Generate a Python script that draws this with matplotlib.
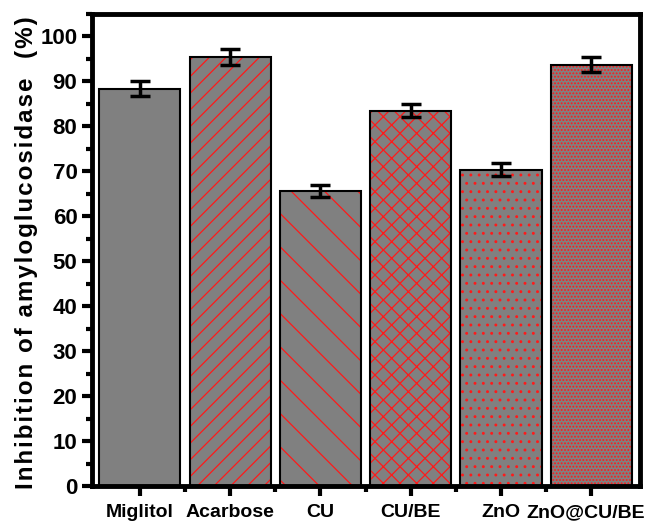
import matplotlib
matplotlib.use("Agg")
import matplotlib.pyplot as plt
import matplotlib.transforms as mtransforms
from matplotlib.ticker import MultipleLocator

categories = ["Miglitol", "Acarbose", "CU", "CU/BE", "ZnO", "ZnO@CU/BE"]
values = [88.4, 95.5, 65.6, 83.5, 70.4, 93.7]
errors = [1.7, 1.8, 1.3, 1.4, 1.4, 1.7]
hatches = ["", "//", "\\", "xx", "..", "....."]
yticks = [0, 10, 20, 30, 40, 50, 60, 70, 80, 90, 100]
ylabel_text = "Inhibition of amyloglucosidase  (%)"

plt.rcParams['hatch.linewidth'] = 0.9
fig = plt.figure(figsize=(6.45, 5.22), dpi=100)
ax = fig.add_axes([92/645, 1-486/522, 548/645, 472/522])

x = list(range(len(categories)))
for i, (v, h) in enumerate(zip(values, hatches)):
    ax.bar(i, v, width=0.9, color="#808080", edgecolor="#ff1a1a", hatch=h, linewidth=0, zorder=2)
ax.bar(x, values, width=0.9, fill=False, edgecolor="black", linewidth=1.5, zorder=3)
ax.errorbar(x, values, yerr=errors, fmt="none", ecolor="black", elinewidth=2.5, capsize=7, capthick=2.5, zorder=4)

ax.set_xlim(-0.53, 5.54)
ax.set_ylim(0, 105)
ax.set_xticks(x)
ax.set_xticks([i + 0.5 for i in x[:-1]], minor=True)
ax.set_xticklabels(categories, family=["Liberation Sans", "DejaVu Sans"], fontweight="bold", fontsize=14)
ax.set_yticks(yticks)
ax.set_yticklabels([str(t) for t in yticks], family=["Liberation Sans", "DejaVu Sans"], fontweight="bold", fontsize=16)
ax.yaxis.set_minor_locator(MultipleLocator(5))
ax.tick_params(axis="both", which="major", direction="out", length=7, width=3)
ax.tick_params(axis="both", which="minor", direction="out", length=4, width=3)
ax.tick_params(axis="x", which="major", pad=6)
for s in ax.spines.values():
    s.set_linewidth(3.5)

last = ax.get_xticklabels()[-1]
last.set_transform(last.get_transform() + mtransforms.ScaledTranslation(-6/100, 0, fig.dpi_scale_trans))

spaced = "\u200a".join(ylabel_text)
ax.set_ylabel(spaced, family=["Liberation Sans", "DejaVu Sans"], fontweight="bold", fontsize=17.4)
ax.yaxis.set_label_coords(-0.098, 0.494)
fig.savefig("out.png", dpi=100)
